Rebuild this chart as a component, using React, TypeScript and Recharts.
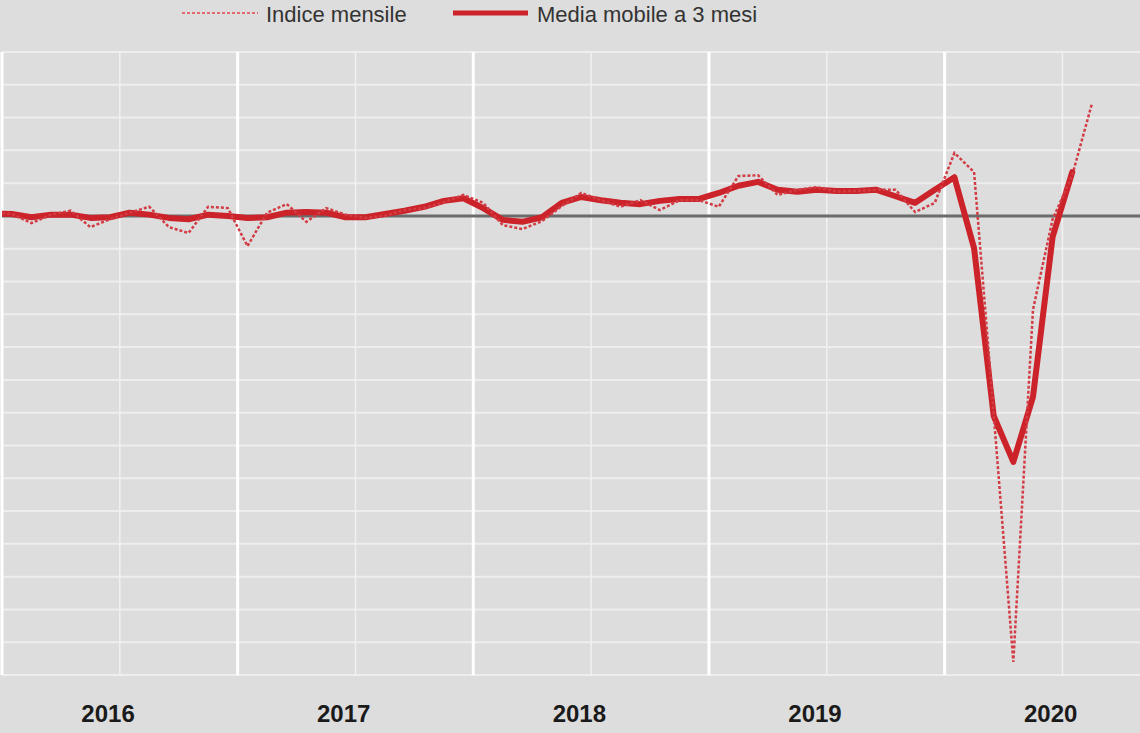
import React from 'react';
import { LineChart, Line, XAxis, YAxis, ReferenceLine } from 'recharts';

// Months from Dec 2015 (partly outside the plot, clipped) to Aug 2020
const months = [
  '2015-12',
  '2016-01', '2016-02', '2016-03', '2016-04', '2016-05', '2016-06', '2016-07', '2016-08', '2016-09', '2016-10', '2016-11', '2016-12',
  '2017-01', '2017-02', '2017-03', '2017-04', '2017-05', '2017-06', '2017-07', '2017-08', '2017-09', '2017-10', '2017-11', '2017-12',
  '2018-01', '2018-02', '2018-03', '2018-04', '2018-05', '2018-06', '2018-07', '2018-08', '2018-09', '2018-10', '2018-11', '2018-12',
  '2019-01', '2019-02', '2019-03', '2019-04', '2019-05', '2019-06', '2019-07', '2019-08', '2019-09', '2019-10', '2019-11', '2019-12',
  '2020-01', '2020-02', '2020-03', '2020-04', '2020-05', '2020-06', '2020-07', '2020-08',
];

const indiceMensile = [
  100.5,
  100.3, 98.9, 100.2, 100.8, 98.3, 99.5, 100.5, 101.4, 98.3, 97.4, 101.4, 101.2,
  95.4, 100.5, 101.8, 99.1, 101.2, 100.2, 99.7, 100.0, 100.9, 101.2, 102.1, 103.2,
  102.0, 98.6, 98.0, 99.2, 101.5, 103.5, 102.4, 101.4, 102.4, 100.9, 102.4, 102.4,
  101.4, 106.1, 106.2, 103.2, 104.0, 104.4, 103.7, 103.8, 104.0, 104.0, 100.6, 102.0,
  109.6, 106.7, 69.8, 32.0, 85.7, 99.5, 106.2, 117.1,
];

const mediaMobile3Mesi = [
  100.4,
  100.3, 99.8, 100.2, 100.2, 99.7, 99.8, 100.5, 100.2, 99.7, 99.5, 100.2, 100.0,
  99.7, 99.8, 100.5, 100.6, 100.5, 99.8, 99.8, 100.3, 100.8, 101.4, 102.3, 102.7,
  101.2, 99.4, 99.1, 99.8, 102.0, 102.9, 102.4, 102.0, 101.8, 102.3, 102.6, 102.6,
  103.5, 104.6, 105.2, 104.0, 103.7, 104.0, 103.8, 103.8, 104.0, 103.0, 102.0, 104.0,
  105.9, 95.1, 69.5, 62.5, 72.4, 96.8, 106.7, null,
];

const yearLabels = ['2016', '2017', '2018', '2019', '2020'];
const yTicks = [30, 35, 40, 45, 50, 55, 60, 65, 70, 75, 80, 85, 90, 95, 100, 105, 110, 115, 120, 125];
const baseValue = 100;

const monthIndex = (m: string) => {
  const [y, mo] = m.split('-').map(Number);
  return (y - 2016) * 12 + (mo - 1);
};

const data = months.map((m, k) => ({
  idx: monthIndex(m),
  month: m,
  mensile: indiceMensile[k],
  media: mediaMobile3Mesi[k],
}));

const yearStarts = yearLabels.map((_, k) => k * 12 - 0.5);
const midYears = yearLabels.map((_, k) => k * 12 + 5.5);
const yearTicks = yearLabels.map((_, k) => k * 12 + 4.9);

const FONT = '"Liberation Sans", Arial, sans-serif';

export default function App() {
  return (
    <div
      style={{
        position: 'absolute',
        left: 0,
        top: 0,
        width: 1140,
        height: 733,
        background: '#dddddd',
        fontFamily: FONT,
        overflow: 'hidden',
      }}
    >
      <svg width={1140} height={40} style={{ position: 'absolute', left: 0, top: 0 }}>
        <line x1={182} y1={13} x2={258} y2={13} stroke="#e06a70" strokeWidth={2} strokeDasharray="3 2" />
        <text x={266} y={22} fontSize={22} fill="#333333" fontFamily={FONT}>Indice mensile</text>
        <line x1={453} y1={13} x2={528} y2={13} stroke="#cc2229" strokeWidth={5} />
        <text x={537} y={22} fontSize={22} fill="#333333" fontFamily={FONT}>Media mobile a 3 mesi</text>
      </svg>
      <LineChart
        width={1140}
        height={733}
        data={data}
        margin={{ top: 52, right: 0, bottom: 0, left: 2 }}
      >
        <XAxis
          type="number"
          dataKey="idx"
          domain={[-0.5, 57.45]}
          allowDataOverflow
          ticks={yearTicks}
          interval={0}
          tickFormatter={(v: number) => yearLabels[Math.round((v - 4.9) / 12)]}
          axisLine={false}
          tickLine={false}
          tickMargin={24}
          height={58}
          tick={{ fontSize: 24, fontWeight: 'bold', fill: '#1a1a1a', fontFamily: FONT }}
        />
        <YAxis hide domain={[30, 125]} ticks={yTicks} allowDataOverflow />
        {yTicks.filter((t) => t !== baseValue).map((t) => (
          <ReferenceLine key={'h' + t} y={t} stroke="#eeeeee" strokeWidth={2} />
        ))}
        {midYears.map((x) => (
          <ReferenceLine key={'m' + x} x={x} stroke="#f1f1f1" strokeWidth={1.5} />
        ))}
        {yearStarts.map((x) => (
          <ReferenceLine key={'y' + x} x={x} stroke="#ffffff" strokeWidth={3} />
        ))}
        <ReferenceLine y={baseValue} stroke="#6b6b6b" strokeWidth={3} />
        <Line
          type="linear"
          dataKey="media"
          stroke="#cc2229"
          strokeWidth={6}
          strokeLinejoin="round"
          strokeLinecap="round"
          dot={false}
          activeDot={false}
          isAnimationActive={false}
        />
        <Line
          type="linear"
          dataKey="mensile"
          stroke="#d23c44"
          strokeWidth={2.5}
          strokeDasharray="3 2"
          dot={false}
          activeDot={false}
          isAnimationActive={false}
        />
      </LineChart>
    </div>
  );
}
